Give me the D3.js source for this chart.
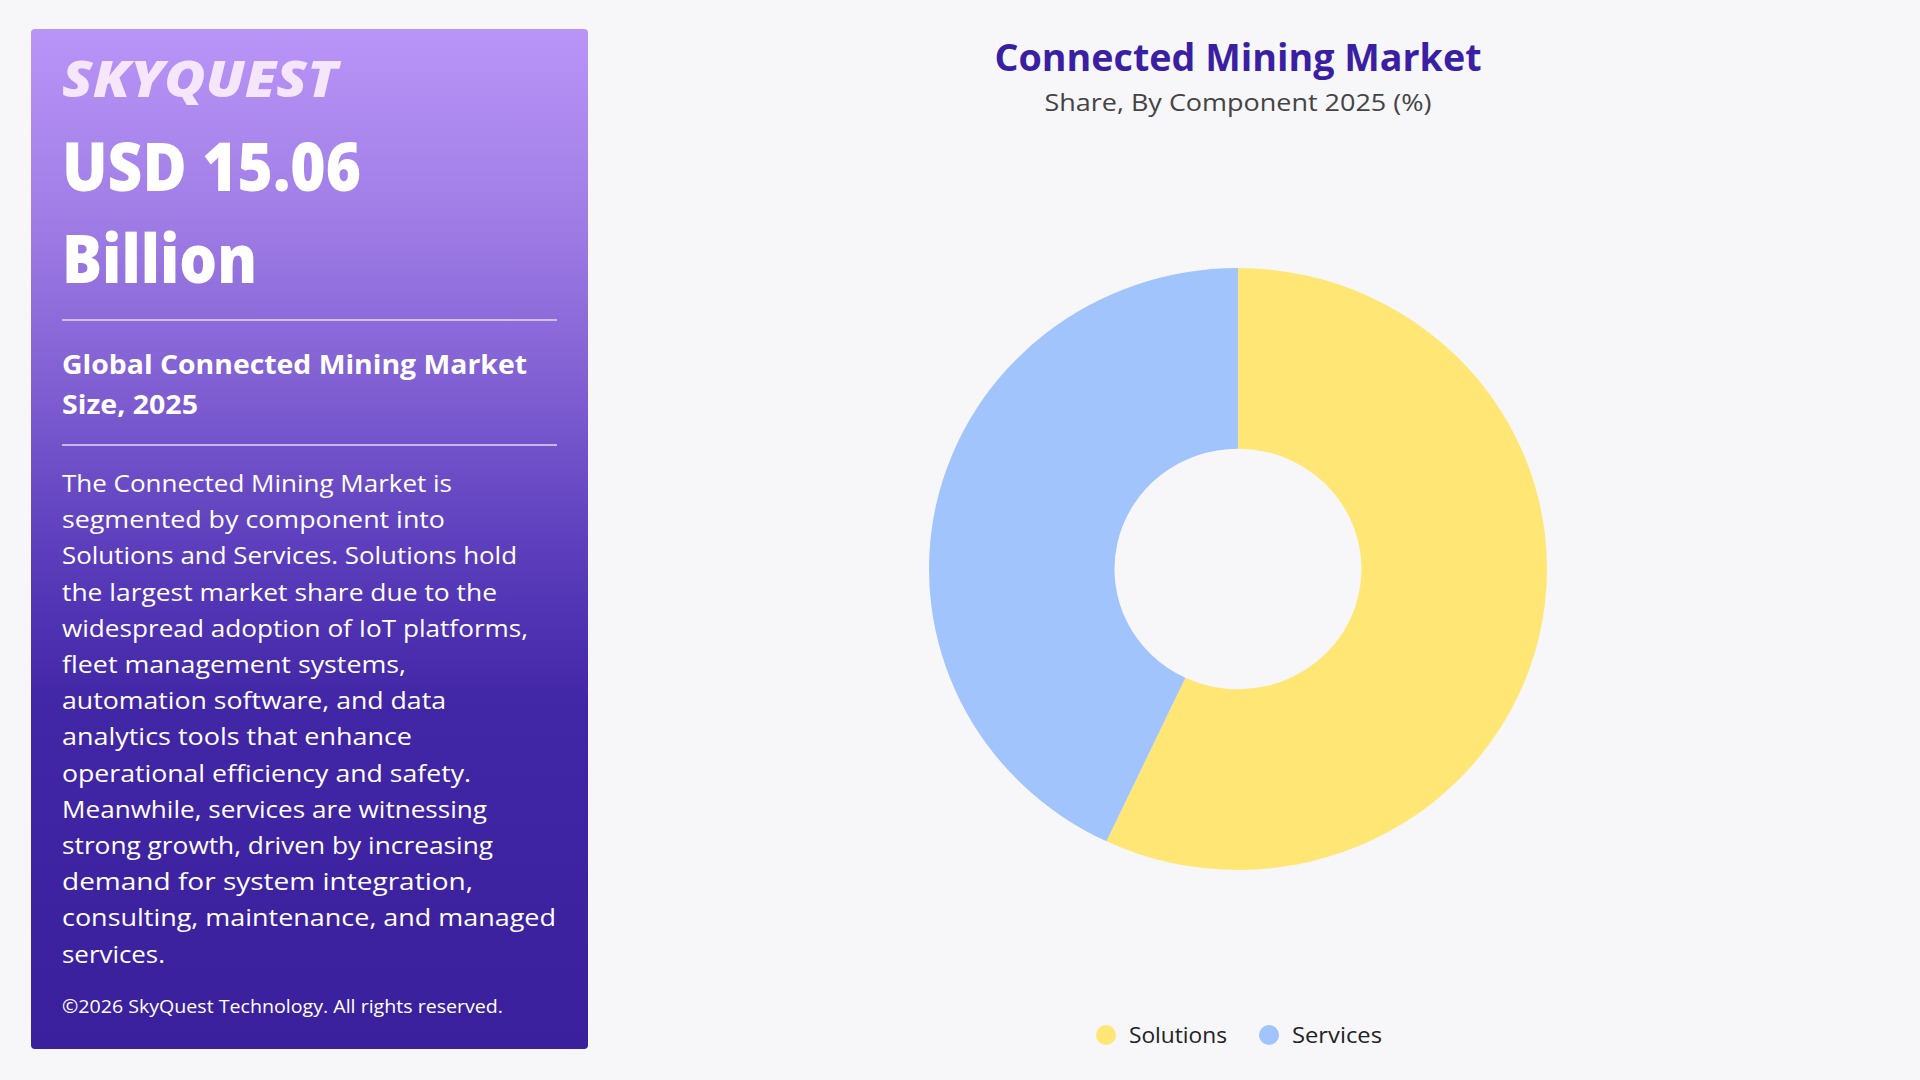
<!DOCTYPE html>
<html>
<head>
<meta charset="utf-8">
<script src="https://cdn.jsdelivr.net/npm/d3@7"></script>
<style>
  html, body { margin: 0; padding: 0; background: #F7F7F9; }
  svg { display: block; }
  text { font-family: "Open Sans", "Noto Sans", sans-serif; }
</style>
</head>
<body>
<svg id="chart" width="1920" height="1080"></svg>
<script>
// ---- data ----
const categories = ["Solutions", "Services"];
const shares = [57.0, 43.0];
const colors = ["#FFE675", "#A1C4FD"];
const chartTitle = "Connected Mining Market";
const chartSubtitle = "Share, By Component 2025 (%)";
const brand = "SKYQUEST";
const marketValue = ["USD 15.06", "Billion"];
const sizeHeading = ["Global Connected Mining Market", "Size, 2025"];
const bodyLines = [
  "The Connected Mining Market is",
  "segmented by component into",
  "Solutions and Services. Solutions hold",
  "the largest market share due to the",
  "widespread adoption of IoT platforms,",
  "fleet management systems,",
  "automation software, and data",
  "analytics tools that enhance",
  "operational efficiency and safety.",
  "Meanwhile, services are witnessing",
  "strong growth, driven by increasing",
  "demand for system integration,",
  "consulting, maintenance, and managed",
  "services."
];
const copyright = "\u00A92026 SkyQuest Technology. All rights reserved.";

// ---- layout (not data) ----
const bodyWidths = [390, 383, 455, 435, 466, 344, 384, 350, 409, 425, 431, 411, 494, 103];

const svg = d3.select("#chart");
const defs = svg.append("defs");
const grad = defs.append("linearGradient").attr("id", "panelGrad")
  .attr("x1", 0).attr("y1", 0).attr("x2", 0).attr("y2", 1);
[[0, "#B995F8"], [0.18, "#A17EE6"], [0.35, "#805FD2"], [0.5, "#5E40BE"], [0.66, "#4126A6"], [1, "#3A209C"]]
  .forEach(([o, c]) => grad.append("stop").attr("offset", o).attr("stop-color", c));

// left panel
const panel = svg.append("g");
panel.append("rect").attr("x", 31).attr("y", 29).attr("width", 557).attr("height", 1020)
  .attr("rx", 4).attr("fill", "url(#panelGrad)");

panel.append("text").attr("x", 62).attr("y", 97)
  .attr("font-family", "Lato, 'Open Sans', sans-serif")
  .attr("font-weight", 900).attr("font-style", "italic").attr("font-size", 50)
  .attr("fill", "#F5E6FB").attr("textLength", 276).attr("lengthAdjust", "spacingAndGlyphs")
  .text(brand);

panel.append("text").attr("x", 62).attr("y", 191)
  .attr("font-weight", 800).attr("font-size", 68).attr("fill", "#FFFFFF")
  .attr("textLength", 299).attr("lengthAdjust", "spacingAndGlyphs")
  .text(marketValue[0]);
panel.append("text").attr("x", 62).attr("y", 283)
  .attr("font-weight", 800).attr("font-size", 68).attr("fill", "#FFFFFF")
  .attr("textLength", 195).attr("lengthAdjust", "spacingAndGlyphs")
  .text(marketValue[1]);

panel.append("line").attr("x1", 62).attr("x2", 557).attr("y1", 320).attr("y2", 320)
  .attr("stroke", "#E6DAFA").attr("stroke-width", 1.5);

panel.append("text").attr("x", 62).attr("y", 374)
  .attr("font-weight", 700).attr("font-size", 27).attr("fill", "#FFFFFF")
  .attr("textLength", 465).attr("lengthAdjust", "spacingAndGlyphs")
  .text(sizeHeading[0]);
panel.append("text").attr("x", 62).attr("y", 414)
  .attr("font-weight", 700).attr("font-size", 27).attr("fill", "#FFFFFF")
  .attr("textLength", 136).attr("lengthAdjust", "spacingAndGlyphs")
  .text(sizeHeading[1]);

panel.append("line").attr("x1", 62).attr("x2", 557).attr("y1", 445).attr("y2", 445)
  .attr("stroke", "#E6DAFA").attr("stroke-width", 1.5);

panel.selectAll("text.body").data(bodyLines).join("text")
  .attr("class", "body")
  .attr("x", 62).attr("y", (d, i) => 492 + i * 36.2)
  .attr("font-size", 24).attr("fill", "#FFFFFF")
  .attr("textLength", (d, i) => bodyWidths[i]).attr("lengthAdjust", "spacingAndGlyphs")
  .text(d => d);

panel.append("text").attr("x", 62).attr("y", 1013)
  .attr("font-size", 18).attr("fill", "#FFFFFF")
  .attr("textLength", 441).attr("lengthAdjust", "spacingAndGlyphs")
  .text(copyright);

// titles
svg.append("text").attr("x", 1238).attr("y", 71).attr("text-anchor", "middle")
  .attr("font-weight", 700).attr("font-size", 38).attr("fill", "#3B1FA3")
  .attr("textLength", 487).attr("lengthAdjust", "spacingAndGlyphs")
  .text(chartTitle);
svg.append("text").attr("x", 1238).attr("y", 111).attr("text-anchor", "middle")
  .attr("font-size", 24).attr("fill", "#444444")
  .attr("textLength", 387).attr("lengthAdjust", "spacingAndGlyphs")
  .text(chartSubtitle);

// donut
const cx = 1238, cy = 569, outerR = 309, innerR = 123.5;
const pie = d3.pie().sort(null).value(d => d.value).startAngle(0).endAngle(2 * Math.PI);
const arc = d3.arc().innerRadius(innerR).outerRadius(outerR);
const pieData = pie(categories.map((c, i) => ({ name: c, value: shares[i], color: colors[i] })));
svg.append("g").attr("transform", `translate(${cx},${cy}) scale(1,0.974)`)
  .selectAll("path").data(pieData).join("path")
  .attr("d", arc).attr("fill", d => d.data.color);

// legend
const legendX = [1106, 1269];
const leg = svg.append("g");
const items = leg.selectAll("g").data(categories).join("g")
  .attr("transform", (d, i) => `translate(${legendX[i]},1035)`);
items.append("circle").attr("r", 10).attr("fill", (d, i) => colors[i]);
items.append("text").attr("x", 23).attr("y", 8)
  .attr("font-size", 22).attr("fill", "#222222")
  .attr("textLength", (d, i) => i === 0 ? 98 : 90).attr("lengthAdjust", "spacingAndGlyphs")
  .text(d => d);
</script>
</body>
</html>
